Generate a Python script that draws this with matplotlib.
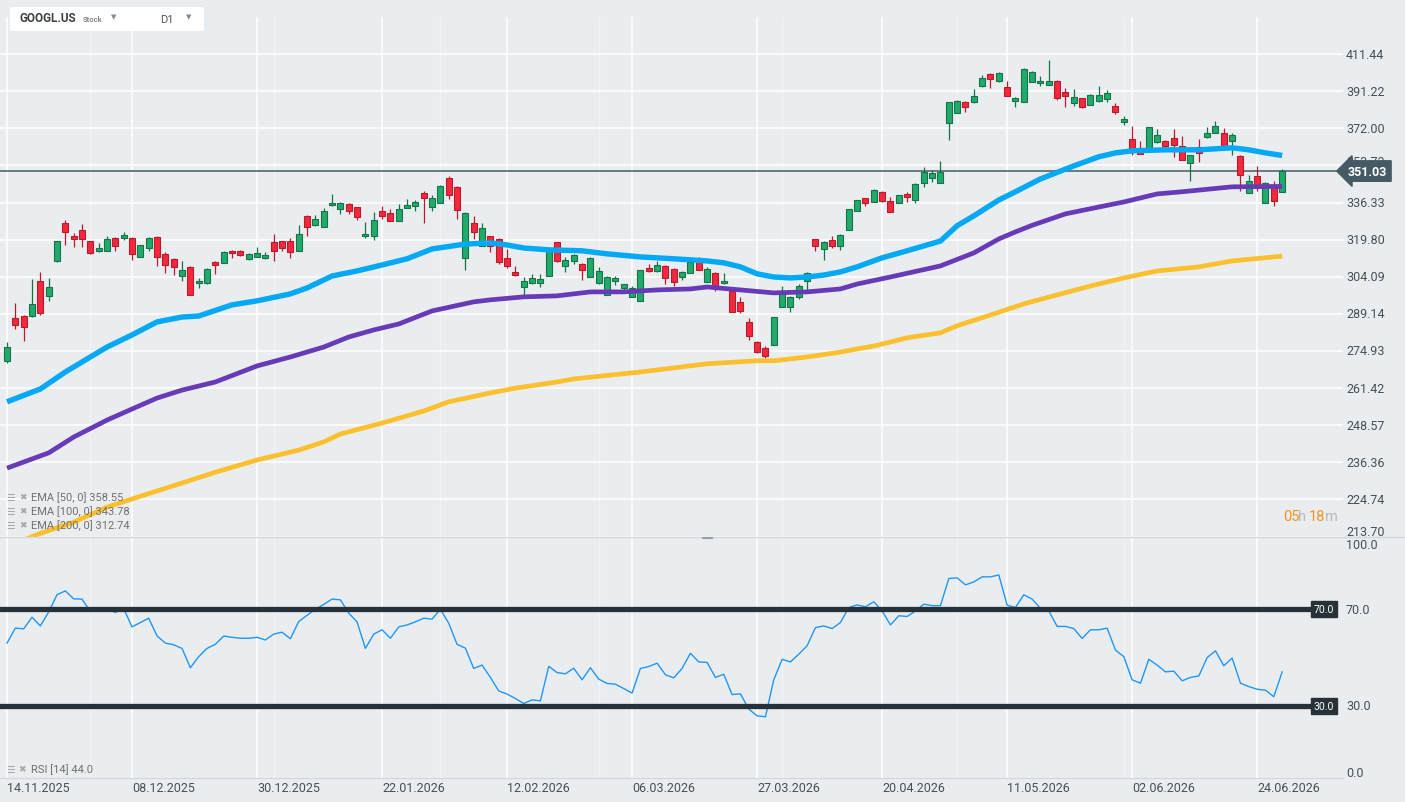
import matplotlib
matplotlib.use("Agg")
import matplotlib.pyplot as plt
from matplotlib.patches import FancyBboxPatch
from matplotlib.lines import Line2D
import numpy as np

plt.rcParams['font.family'] = ['Roboto', 'DejaVu Sans']

# ---- data (GOOGL.US, D1) ----
opens = [271.2, 287.5, 288.3, 288.3, 302.4, 296.3, 310.7, 327.2, 321.4, 324.1,
         319.2, 315.0, 315.0, 320.5, 320.5, 320.5, 312.4, 316.2, 321.0, 313.7,
         311.6, 304.4, 308.2, 301.5, 301.5, 310.3, 309.9, 315.0, 315.0, 311.6,
         312.4, 312.0, 318.8, 319.2, 319.2, 315.0, 330.3, 326.3, 325.4, 335.2,
         333.4, 335.7, 334.3, 321.4, 321.4, 332.5, 331.7, 328.1, 333.9, 334.8,
         340.8, 334.3, 336.1, 347.8, 343.6, 312.0, 327.2, 317.1, 321.4, 320.1,
         312.0, 306.1, 299.9, 301.5, 301.5, 304.4, 318.8, 308.6, 310.7, 309.5,
         304.0, 301.5, 296.7, 302.4, 299.5, 295.9, 294.3, 307.8, 306.5, 308.6,
         307.4, 304.0, 305.7, 310.3, 302.0, 305.7, 301.5, 298.3, 293.9, 286.0,
         278.3, 276.0, 277.2, 291.9, 291.9, 295.9, 302.4, 320.1, 315.8, 319.6,
         317.1, 324.1, 332.5, 338.4, 336.6, 341.3, 337.0, 336.1, 340.3, 337.5,
         345.5, 347.8, 345.5, 374.6, 379.9, 385.6, 385.6, 394.1, 400.6, 396.8,
         393.5, 386.1, 385.6, 396.2, 395.7, 394.6, 396.8, 390.8, 385.1, 387.7,
         384.1, 386.1, 387.2, 383.5, 375.2, 366.7, 362.3, 362.3, 365.3, 365.7,
         367.2, 363.3, 354.9, 362.8, 367.7, 369.7, 369.7, 365.7, 358.4, 340.8,
         348.8, 336.1, 343.1, 341.3]
highs = [278.3, 293.5, 288.7, 303.2, 306.1, 303.6, 319.4, 328.5, 322.7, 326.7,
         319.4, 318.4, 321.4, 320.8, 323.2, 320.8, 317.7, 321.0, 321.2, 314.6,
         311.8, 310.7, 308.4, 303.6, 307.6, 310.5, 315.0, 315.2, 315.2, 314.1,
         316.7, 314.6, 322.3, 319.4, 320.5, 326.3, 330.5, 330.8, 333.9, 340.3,
         336.6, 336.1, 334.5, 327.6, 332.1, 334.8, 333.4, 335.7, 338.0, 337.5,
         341.7, 339.8, 344.5, 348.8, 343.8, 331.9, 330.3, 327.2, 321.6, 320.5,
         315.8, 308.6, 304.0, 305.3, 305.3, 315.9, 319.0, 312.4, 313.5, 309.7,
         312.2, 308.2, 304.2, 304.4, 301.3, 300.3, 307.1, 309.5, 310.7, 308.8,
         307.6, 306.5, 310.5, 312.4, 308.2, 305.9, 305.7, 299.5, 295.9, 287.5,
         278.7, 276.8, 288.1, 300.3, 296.3, 301.1, 305.9, 320.3, 319.2, 321.4,
         322.1, 333.6, 337.7, 338.6, 342.4, 341.5, 338.9, 339.9, 341.3, 345.2,
         353.0, 351.6, 355.9, 385.8, 386.7, 386.1, 392.4, 400.0, 400.8, 401.7,
         396.8, 388.2, 403.9, 402.2, 399.5, 408.2, 397.0, 393.0, 392.4, 387.9,
         389.5, 394.1, 391.8, 385.1, 378.3, 373.2, 365.7, 372.9, 371.7, 366.0,
         371.7, 368.2, 359.0, 366.7, 372.7, 375.8, 372.2, 369.7, 358.6, 349.2,
         353.4, 345.7, 346.4, 352.0]
lows = [270.5, 283.3, 278.7, 288.0, 288.7, 294.3, 310.3, 317.5, 316.7, 316.7,
        313.8, 314.6, 314.8, 315.0, 319.6, 311.2, 312.2, 315.0, 308.6, 305.7,
        304.8, 302.4, 296.5, 299.5, 301.3, 305.3, 309.7, 312.0, 312.9, 311.2,
        312.2, 311.6, 310.7, 315.0, 312.0, 314.8, 321.4, 325.9, 325.2, 334.8,
        331.2, 331.2, 328.5, 320.5, 319.6, 329.0, 327.9, 327.9, 333.7, 332.5,
        327.2, 332.5, 335.9, 338.0, 329.0, 306.9, 320.1, 316.9, 314.6, 309.5,
        307.8, 304.4, 296.3, 301.3, 299.9, 304.2, 310.3, 306.1, 309.5, 302.8,
        303.8, 301.3, 296.5, 300.7, 298.3, 295.7, 294.1, 306.1, 306.1, 301.1,
        300.3, 302.8, 305.5, 306.7, 301.8, 298.3, 301.3, 289.7, 289.5, 279.1,
        274.2, 272.3, 277.0, 291.7, 289.9, 295.1, 298.7, 315.0, 311.2, 316.2,
        315.4, 323.9, 332.3, 334.8, 336.4, 336.8, 331.9, 335.9, 336.6, 336.1,
        343.6, 345.9, 345.3, 366.2, 379.7, 380.4, 385.1, 393.5, 393.0, 396.2,
        388.5, 383.0, 385.4, 396.0, 394.1, 394.4, 386.7, 383.0, 383.5, 382.5,
        383.9, 385.6, 385.6, 379.4, 373.7, 358.8, 359.1, 362.1, 364.8, 362.9,
        357.9, 356.2, 346.4, 355.4, 367.2, 369.5, 363.1, 358.8, 341.7, 340.6,
        341.7, 335.9, 334.8, 341.1]
closes = [276.4, 284.9, 284.1, 293.1, 289.5, 299.9, 319.2, 323.2, 320.1, 320.1,
          314.1, 316.2, 320.1, 317.1, 321.9, 313.7, 317.5, 320.5, 312.4, 309.1,
          308.2, 306.9, 296.7, 302.4, 307.4, 309.1, 314.6, 314.1, 313.3, 313.7,
          314.1, 313.3, 315.0, 316.2, 314.6, 322.3, 325.4, 329.0, 332.5, 336.1,
          336.1, 332.5, 329.9, 322.3, 328.5, 330.3, 328.1, 333.4, 335.2, 336.6,
          338.4, 338.4, 344.1, 339.8, 333.0, 331.7, 323.2, 325.0, 317.1, 310.3,
          308.6, 304.8, 302.4, 303.6, 303.2, 315.8, 310.7, 311.2, 313.3, 306.9,
          312.0, 306.5, 304.0, 303.6, 301.1, 299.5, 306.9, 306.5, 309.1, 303.6,
          302.0, 306.1, 310.3, 306.9, 307.4, 300.3, 302.4, 289.9, 290.3, 280.6,
          274.5, 273.1, 287.9, 297.9, 295.9, 300.3, 305.7, 317.1, 318.8, 317.1,
          321.9, 333.4, 337.5, 336.1, 342.2, 337.0, 332.1, 339.8, 338.9, 345.0,
          350.6, 350.2, 350.6, 385.6, 386.1, 383.0, 388.7, 398.4, 397.9, 401.1,
          388.7, 387.7, 403.3, 401.7, 396.8, 396.8, 387.7, 388.7, 388.2, 383.0,
          389.3, 389.3, 390.3, 380.4, 376.8, 360.8, 359.3, 372.7, 368.7, 363.3,
          363.8, 356.4, 358.8, 359.8, 369.7, 373.2, 363.3, 368.7, 349.2, 346.4,
          344.5, 345.5, 337.0, 351.03]

rsi = [55.9, 62.1, 61.8, 66.6, 63.0, 68.8, 75.9, 77.5, 74.2, 74.1,
       69.0, 69.2, 70.2, 68.6, 70.2, 62.6, 64.4, 66.2, 58.9, 55.9,
       55.2, 53.7, 45.7, 50.3, 53.7, 55.4, 58.8, 58.3, 57.9, 57.9,
       58.3, 57.2, 59.6, 60.4, 57.7, 64.8, 67.4, 69.9, 71.9, 74.1,
       73.8, 68.3, 64.7, 53.7, 59.6, 61.4, 57.9, 62.6, 63.4, 64.7,
       66.2, 65.8, 69.9, 64.1, 55.4, 53.8, 45.4, 46.8, 41.7, 36.1,
       34.8, 33.0, 30.9, 32.4, 32.0, 46.3, 43.7, 43.2, 45.5, 40.7,
       45.7, 41.0, 39.2, 38.9, 37.1, 35.2, 45.4, 46.2, 47.6, 42.8,
       41.5, 45.4, 51.7, 48.1, 47.9, 41.7, 43.0, 34.6, 34.9, 28.6,
       25.8, 25.4, 40.7, 49.2, 48.1, 51.3, 54.8, 62.3, 63.0, 61.9,
       64.4, 70.6, 71.7, 70.9, 73.0, 69.2, 63.4, 67.2, 66.9, 69.2,
       72.0, 71.4, 71.4, 82.6, 82.9, 80.0, 81.2, 83.3, 83.3, 84.1,
       71.6, 70.6, 75.9, 74.1, 70.3, 69.2, 62.8, 62.8, 61.9, 57.8,
       61.4, 61.4, 62.1, 53.0, 50.3, 40.7, 39.3, 49.2, 46.8, 44.0,
       44.3, 40.3, 41.7, 42.3, 49.9, 52.7, 46.5, 49.7, 39.3, 37.9,
       36.8, 36.4, 33.7, 44.0]

ema50_idx = [0, 4, 7, 10, 12, 15, 18, 21, 23, 27, 30, 34, 36, 39, 42, 45, 48, 51,
             55, 58, 60, 62, 65, 69, 72, 76, 80, 84, 86, 88, 90, 92, 94, 96, 98,
             100, 102, 105, 108, 112, 114, 116, 119, 121, 124, 128, 131, 133, 135,
             139, 143, 147, 149, 151, 153]
ema50_val = [256.6, 261.1, 267.2, 272.7, 276.4, 281.0, 286.0, 287.9, 288.3, 292.7,
             294.3, 297.1, 299.5, 304.4, 306.5, 309.0, 311.6, 315.8, 317.9, 318.4,
             317.5, 316.2, 315.4, 315.0, 313.7, 312.4, 311.6, 310.7, 309.9, 308.2,
             305.3, 304.0, 303.6, 304.0, 304.8, 306.1, 308.2, 312.0, 315.0, 319.2,
             325.9, 330.3, 337.5, 341.3, 347.3, 353.5, 357.9, 359.8, 360.8, 361.3,
             361.3, 362.3, 361.3, 359.8, 358.55]

ema100_idx = [0, 5, 8, 12, 15, 18, 21, 25, 30, 34, 38, 41, 44, 47, 51, 56, 58, 62,
              66, 70, 74, 78, 82, 84, 88, 92, 96, 100, 102, 106, 112, 116, 119,
              121, 123, 127, 131, 134, 138, 141, 147, 153]
ema100_val = [234.5, 239.4, 244.6, 250.3, 254.1, 257.9, 260.7, 263.6, 269.4, 272.7,
              276.4, 280.2, 282.9, 285.2, 290.3, 293.9, 294.7, 295.9, 296.3, 297.9,
              297.9, 298.7, 299.1, 299.9, 298.7, 297.5, 297.9, 299.1, 301.1, 304.0,
              308.6, 314.1, 320.1, 323.2, 326.1, 331.2, 334.3, 336.6, 340.3, 341.3,
              343.6, 343.78]

ema200_idx = [0, 4, 8, 12, 16, 21, 25, 30, 35, 38, 40, 45, 50, 53, 58, 61, 66, 68,
              76, 84, 90, 92, 96, 100, 102, 104, 106, 108, 112, 114, 118, 122, 126,
              130, 134, 138, 143, 147, 153]
ema200_val = [210.8, 214.6, 217.9, 222.4, 225.7, 229.8, 233.2, 237.1, 240.3, 243.0,
              245.6, 249.3, 253.4, 256.6, 259.7, 261.4, 263.6, 264.7, 267.2, 270.2,
              271.3, 271.3, 272.7, 274.5, 275.7, 276.8, 278.3, 279.9, 281.8, 284.5,
              288.7, 293.1, 296.7, 300.3, 303.6, 306.5, 308.2, 310.7, 312.74]

price_ticks = [213.70, 224.74, 236.36, 248.57, 261.42, 274.93, 289.14, 304.09,
               319.80, 336.33, 353.73, 372.00, 391.22, 411.44]
date_idx = [0, 15, 30, 45, 60, 75, 90, 105, 120, 135, 150]
date_labels = ['14.11.2025', '08.12.2025', '30.12.2025', '22.01.2026', '12.02.2026',
               '06.03.2026', '27.03.2026', '20.04.2026', '11.05.2026', '02.06.2026',
               '24.06.2026']
month_idx = [10, 32, 52, 71, 93, 114, 134]
last_price = 351.03

# ---- layout helpers (pixels -> figure fraction) ----
W, H = 1405, 803
BG = '#eaedf0'


def fx(px):
    return px / W


def fy(py):
    return 1 - py / H


fig = plt.figure(figsize=(W / 100, H / 100), dpi=100, facecolor=BG)
ax = fig.add_axes([0, fy(537.5), fx(1343), (537.5 - 18) / H])
ax2 = fig.add_axes([0, fy(779.2), fx(1343), (779.2 - 537.5) / H])
for a in (ax, ax2):
    a.set_facecolor('none')
    a.set_xlim(-0.84, 160.3)
    a.set_axisbelow(True)
    for s in a.spines.values():
        s.set_visible(False)

# ---- price panel ----
o = np.array(opens)
h = np.array(highs)
l = np.array(lows)
c = np.array(closes)
idx = np.arange(len(c))
up = c >= o
lo_body = np.minimum(o, c)
hi_body = np.maximum(o, c)

GREEN, GREEN_E = '#22aa6c', '#157348'
RED, RED_E = '#f3283f', '#b81b2c'

ax.vlines(idx[up], l[up], h[up], color=GREEN_E, lw=0.9, zorder=3)
ax.vlines(idx[~up], l[~up], h[~up], color=RED_E, lw=0.9, zorder=3)
ax.bar(idx[up], hi_body[up] - lo_body[up], bottom=lo_body[up], width=0.72,
       color=GREEN, edgecolor=GREEN_E, lw=0.8, zorder=4)
ax.bar(idx[~up], hi_body[~up] - lo_body[~up], bottom=lo_body[~up], width=0.72,
       color=RED, edgecolor=RED_E, lw=0.8, zorder=4)

line_kw = dict(zorder=5, solid_capstyle='butt', solid_joinstyle='round')
ax.plot(ema200_idx, ema200_val, color='#fbc02d', lw=3.4, **line_kw)
ax.plot(ema100_idx, ema100_val, color='#673ab7', lw=3.4, **line_kw)
ax.plot(ema50_idx, ema50_val, color='#03a9f4', lw=3.9, **line_kw)

ax.set_yscale('log')
ax.set_ylim(213.70, 432.72)
ax.minorticks_off()
ax.set_yticks(price_ticks)
ax.set_xticks(date_idx)
ax.tick_params(left=False, bottom=False, labelleft=False, labelbottom=False)
ax.grid(True, color='white', lw=1.1)
for m in month_idx:
    ax.axvline(m, color='#f1f3f5', lw=1, zorder=0.4)
    ax2.axvline(m, color='#f1f3f5', lw=1, zorder=0.4)

ax.axhline(last_price, color='#455a64', lw=1.1, zorder=2)

for v in price_ticks:
    dy = 0
    if v == price_ticks[0]:
        dy = 5
    elif v == 353.73:
        dy = 4     # sits half hidden behind the last price tag, as on the original
    ax.annotate(f'{v:.2f}', xy=(1.0, v), xycoords=('axes fraction', 'data'),
                xytext=(3, dy), textcoords='offset pixels', ha='left', va='center',
                fontsize=9, color='#4a4f55', annotation_clip=False, zorder=6)

ax.annotate(f'{last_price:.2f}', xy=(1.0, last_price), xycoords=('axes fraction', 'data'),
            xytext=(5, 0), textcoords='offset pixels', ha='left', va='center',
            fontsize=9, fontweight='bold', color='white', annotation_clip=False, zorder=10,
            bbox=dict(boxstyle='larrow,pad=0.3', fc='#455a64', ec='#455a64'))

# EMA legend, bottom left
ema_rows = ['EMA [50, 0] 358.55', 'EMA [100, 0] 343.78', 'EMA [200, 0] 312.74']
for k, txt in enumerate(ema_rows):
    yy = 498 + 14 * k
    fig.text(fx(6), fy(yy), '☰', fontsize=7, color='#a6a6a6', va='center',
             family='DejaVu Sans')
    fig.text(fx(19), fy(yy), '✖', fontsize=6.5, color='#a6a6a6', va='center',
             family='DejaVu Sans')
    fig.text(fx(31), fy(yy), txt, fontsize=8, color='#707070', va='center')

# candle countdown
fig.text(fx(1283), fy(517), '05', fontsize=10.5, color='#f7941d', va='center')
fig.text(fx(1298), fy(517), 'h', fontsize=10.5, color='#b9b9b9', va='center')
fig.text(fx(1309), fy(517), '18', fontsize=10.5, color='#f7941d', va='center')
fig.text(fx(1325), fy(517), 'm', fontsize=10.5, color='#b9b9b9', va='center')

# ---- RSI panel ----
ax2.set_ylim(0, 100)
ax2.plot(idx, rsi, color='#2196f3', lw=1.0, zorder=4)
for lvl in (70, 30):
    ax2.axhline(lvl, xmin=0, xmax=1310 / 1343, color='#263238', lw=3.8, zorder=5)
    ax2.annotate(f'{lvl:.1f}', xy=(1324 / 1343, lvl), xycoords=('axes fraction', 'data'),
                 ha='center', va='center', fontsize=7.5, color='white', zorder=6,
                 bbox=dict(boxstyle='square,pad=0.3', fc='#263238', ec='#263238'))
for lvl, dy in ((100, -8), (70, 0), (30, 0), (0, 6)):
    ax2.annotate(f'{lvl:.1f}', xy=(1.0, lvl), xycoords=('axes fraction', 'data'),
                 xytext=(3, dy), textcoords='offset pixels', ha='left', va='center',
                 fontsize=9, color='#4a4f55', annotation_clip=False)

ax2.set_yticks([])
ax2.set_xticks(date_idx)
ax2.set_xticklabels(date_labels, ha='left')
ax2.tick_params(axis='x', length=0, pad=2, labelsize=9, labelcolor='#4a4f55')
ax2.grid(True, axis='x', color='white', lw=1.1)
ax2.spines['bottom'].set_visible(True)
ax2.spines['bottom'].set_color('#d2d6da')

fig.text(fx(6), fy(770), '☰', fontsize=7, color='#a6a6a6', va='center', family='DejaVu Sans')
fig.text(fx(18), fy(770), '✖', fontsize=6.5, color='#a6a6a6', va='center', family='DejaVu Sans')
fig.text(fx(31), fy(770), 'RSI [14] 44.0', fontsize=8, color='#707070', va='center')

# panel separator and grip
fig.add_artist(Line2D([0, 1], [fy(537.5)] * 2, color='#d3d7db', lw=1))
fig.add_artist(Line2D([fx(703), fx(712)], [fy(539)] * 2, color='#9aa0a6', lw=1.5))

# ---- symbol box, top left ----
fig.add_artist(FancyBboxPatch((fx(10), fy(32)), fx(194), 24 / H,
                              boxstyle='round,pad=0,rounding_size=0.002',
                              transform=fig.transFigure, fc='white', ec='none'))
fig.text(fx(20), fy(19), 'GOOGL.US', fontsize=8.5, fontweight='bold', color='#3c4043', va='center')
fig.text(fx(83), fy(20), 'Stock', fontsize=5.5, fontweight='bold', color='#8a8a8a', va='center')
fig.text(fx(111), fy(17), '▼', fontsize=5, color='#8a8a8a', va='center', family='DejaVu Sans')
fig.text(fx(160), fy(20), 'D1', fontsize=8, color='#555555', va='center')
fig.text(fx(186), fy(17), '▼', fontsize=5, color='#8a8a8a', va='center', family='DejaVu Sans')

fig.savefig('out.png', dpi=100, facecolor=BG)
